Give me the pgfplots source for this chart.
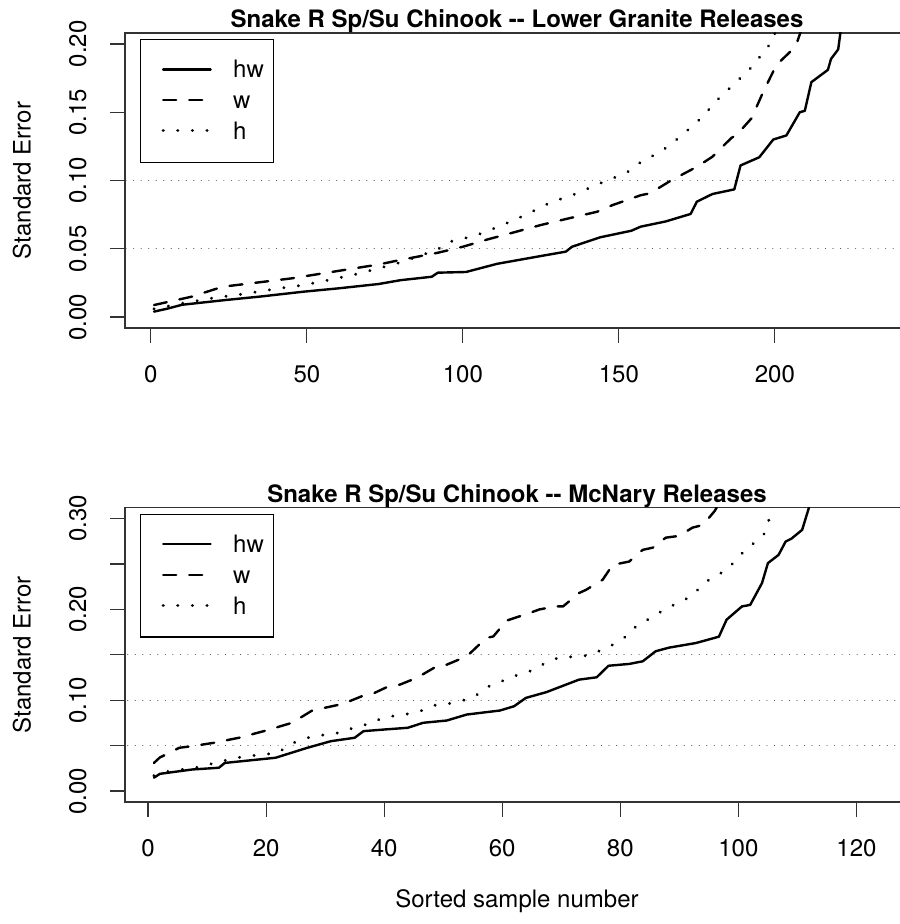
\documentclass[border=0pt,12pt]{standalone}
\usepackage{fontspec}
\setmainfont{TeX Gyre Heros}
\usepackage{pgfplots}
\pgfplotsset{compat=1.18}

\pgfplotsset{
  rstyle/.style={
    scale only axis, width=392pt,
    axis line style={black!80, line width=0.6pt},
    every tick/.style={black!80, line width=0.6pt},
    tick align=outside, tick pos=left, major tick length=7.5pt,
    /pgf/number format/assume math mode=true,
    yticklabel style={rotate=90, anchor=south, yshift=7.5pt},
    xticklabel style={yshift=-7pt},
    every axis title shift=0pt,
    title style={font=\bfseries, at={(axis description cs:0.5,1)}, anchor=base, yshift=2.5pt},
    ylabel={Standard Error},
    ylabel style={at={(axis description cs:-0.1314,0.5)}, anchor=center},
    legend style={at={(axis description cs:0.0191,0.9797)}, anchor=north west,
      draw=black, line width=0.6pt, inner xsep=5pt, inner ysep=10.7pt,
      row sep=6.25pt, column sep=10.5pt,
      nodes={inner sep=0pt, text height=8.5pt, text depth=0pt, anchor=base west}},
    legend image code/.code={\path (0pt,0pt); \draw[##1] (5.5pt,4.25pt) -- (29.2pt,4.25pt);},
  },
  hw/.style={black, line width=1.2pt, line cap=round, line join=round},
  ww/.style={black, line width=1.2pt, line cap=round, line join=round, dash pattern=on 6.5pt off 6.5pt},
  hh/.style={black, line width=1.6pt, line cap=round, line join=round, dash pattern=on 0.01pt off 7.3pt},
  refl/.style={black!65, line width=0.6pt, line cap=round, dash pattern=on 0.01pt off 3.75pt, forget plot},
}

\begin{document}
\begin{tikzpicture}
\begin{axis}[rstyle, at={(62.5pt,298pt)}, anchor=south west, height=147.5pt,
  xmin=-8.3, xmax=243, ymin=-0.008, ymax=0.208,
  xtick={0,50,100,150,200},
  ytick={0,0.05,0.1,0.15,0.2}, yticklabels={0.00,0.05,0.10,0.15,0.20},
  title={Snake R Sp/Su Chinook -{}- Lower Granite Releases}]
\addplot[refl] coordinates {(-20,0.05) (300,0.05)};
\addplot[refl] coordinates {(-20,0.10) (300,0.10)};
\addplot[hw] coordinates {(1,0.004) (5,0.006) (10,0.009) (24,0.0125) (35,0.015) (49,0.0186) (60,0.021) (73,0.0242) (80,0.027) (90,0.0295) (92,0.0325) (101,0.033) (111,0.039) (125,0.0447) (133,0.0479) (135,0.0515) (144,0.0584) (154,0.0632) (157,0.0662) (165,0.070) (173,0.0755) (175,0.0845) (180,0.0901) (187,0.0935) (189,0.111) (195,0.117) (199.5,0.130) (203.7,0.133) (208,0.150) (209.6,0.151) (211.7,0.172) (217,0.181) (218,0.189) (220.3,0.196) (221,0.208) (222,0.23) (226,0.3) (233,0.5)};
\addlegendentry{hw}
\addplot[ww] coordinates {(1,0.0088) (13,0.0149) (23,0.0222) (45,0.0283) (73,0.0385) (80,0.0418) (92,0.0471) (100,0.0515) (108,0.0569) (116,0.0618) (125,0.0674) (134,0.0723) (143,0.0771) (148,0.082) (157,0.0892) (160,0.0906) (167,0.1004) (175,0.110) (180,0.1174) (186,0.131) (188,0.134) (192.5,0.1455) (196.3,0.165) (200.5,0.1846) (204.8,0.194) (207,0.2005) (210,0.22) (220,0.28) (233,0.45)};
\addlegendentry{w}
\addplot[hh] coordinates {(1,0.006) (10,0.010) (20,0.014) (30,0.017) (41,0.021) (49,0.0234) (58,0.0276) (67,0.032) (80,0.040) (92,0.0495) (95,0.0547) (104,0.0596) (112,0.0667) (120,0.0747) (128,0.0838) (136,0.0901) (144.5,0.0984) (152.5,0.1057) (156,0.112) (164,0.122) (170,0.1326) (176.5,0.146) (182,0.16) (188,0.173) (194,0.186) (196.3,0.195) (199.5,0.2017) (201,0.22) (215,0.3) (233,0.5)};
\addlegendentry{h}
\end{axis}

\begin{axis}[rstyle, at={(62.5pt,61pt)}, anchor=south west, height=147.15pt,
  xmin=-3.9, xmax=128.9, ymin=-0.012, ymax=0.312,
  xtick={0,20,40,60,80,100,120},
  ytick={0,0.05,0.1,0.15,0.2,0.25,0.3}, yticklabels={0.00,{},0.10,{},0.20,{},0.30},
  xlabel={Sorted sample number},
  xlabel style={at={(axis description cs:0.5,-0.3364)}, anchor=center},
  title={Snake R Sp/Su Chinook -{}- McNary Releases}]
\addplot[refl] coordinates {(-20,0.05) (300,0.05)};
\addplot[refl] coordinates {(-20,0.10) (300,0.10)};
\addplot[refl] coordinates {(-20,0.15) (300,0.15)};
\addplot[hw] coordinates {(1,0.0147) (2,0.019) (7.5,0.0238) (12,0.0257) (13,0.031) (21.6,0.0367) (27,0.0477) (31,0.055) (35,0.0587) (36.5,0.066) (40,0.0678) (44,0.0697) (46.6,0.0752) (50.6,0.0777) (54,0.0843) (59.6,0.0887) (62,0.0934) (64,0.1026) (67.5,0.109) (73,0.1227) (76,0.1253) (78,0.138) (81.5,0.14) (83.8,0.1429) (86,0.154) (88.3,0.158) (92.8,0.163) (96.7,0.170) (98,0.1887) (100.6,0.2033) (102,0.205) (104,0.229) (105,0.251) (106.8,0.26) (108,0.2747) (109,0.278) (110.8,0.2876) (111.9,0.311) (113,0.35) (118,0.5)};
\addlegendentry{hw}
\addplot[ww] coordinates {(1,0.031) (2,0.037) (5.3,0.0477) (7.5,0.0495) (11,0.053) (15.4,0.0587) (20,0.0667) (24.4,0.0752) (27.8,0.0887) (33,0.096) (36.2,0.1044) (38,0.107) (40.4,0.1143) (42.7,0.1173) (45.5,0.1246) (48.9,0.1374) (50.6,0.1392) (54,0.1484) (57.3,0.1686) (58.5,0.1703) (60.7,0.1876) (64.6,0.196) (66.3,0.2) (69,0.2033) (70.3,0.2033) (73,0.218) (74.2,0.2216) (77,0.2326) (78.7,0.249) (81.5,0.2527) (83.8,0.2656) (85.5,0.268) (87.7,0.279) (90,0.281) (92.2,0.29) (94,0.293) (96,0.3085) (97,0.32) (105,0.4) (118,0.6)};
\addlegendentry{w}
\addplot[hh] coordinates {(1,0.017) (3.6,0.022) (8,0.0257) (10.3,0.0293) (12.6,0.033) (15,0.0367) (17,0.0385) (19.4,0.0403) (22,0.042) (24,0.0513) (26,0.0568) (28.4,0.061) (30.6,0.0623) (33,0.065) (35.4,0.0714) (37.6,0.074) (39.5,0.080) (42,0.0832) (44,0.085) (46.4,0.0887) (48.6,0.0945) (51,0.0964) (53,0.099) (55.4,0.1044) (57.3,0.1143) (59.3,0.119) (61.3,0.1253) (63.5,0.1293) (65.7,0.1345) (67.7,0.1429) (70,0.1477) (72.2,0.1477) (74.6,0.1495) (76.7,0.155) (78.7,0.161) (80.7,0.169) (82.3,0.1795) (84.2,0.187) (86.2,0.195) (88.3,0.2026) (90.3,0.2088) (92.3,0.2154) (93.8,0.227) (95.7,0.2356) (97.8,0.2425) (99.4,0.2527) (101,0.2645) (102.8,0.274) (104.5,0.284) (105.1,0.2967) (105.5,0.31) (106,0.33) (112,0.42) (118,0.55)};
\addlegendentry{h}
\end{axis}
\pgfresetboundingbox
\path[use as bounding box] (0pt,0pt) rectangle (449.5pt,462pt);
\end{tikzpicture}
\end{document}
